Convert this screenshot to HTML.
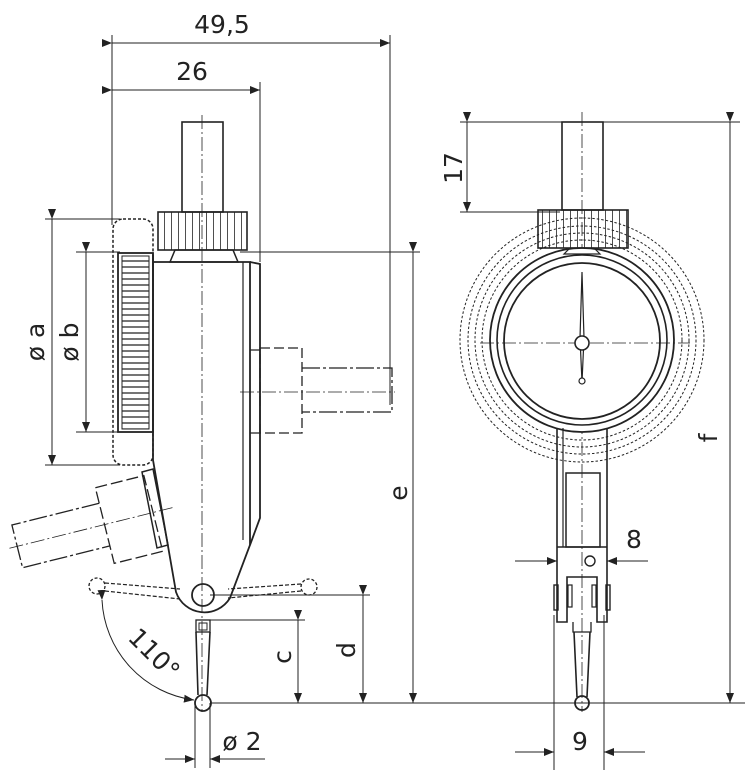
<!DOCTYPE html>
<html><head><meta charset="utf-8"><style>
html,body{margin:0;padding:0;background:#fff}
svg{display:block}
text{font-family:"DejaVu Sans","Liberation Sans",sans-serif;fill:#222}
</style></head><body>
<svg width="748" height="773" viewBox="0 0 748 773" xmlns="http://www.w3.org/2000/svg">
<defs>
<marker id="a" markerWidth="10" markerHeight="8" refX="10" refY="4" orient="auto" markerUnits="userSpaceOnUse">
<path d="M0,0 L10,4 L0,8 z" fill="#222"/></marker>
<pattern id="kn" width="7" height="40" patternUnits="userSpaceOnUse"><line x1="3.5" y1="0" x2="3.5" y2="40" stroke="#222" stroke-width="0.8"/></pattern>
<pattern id="kh" width="40" height="6" patternUnits="userSpaceOnUse"><line x1="0" y1="3" x2="40" y2="3" stroke="#222" stroke-width="1.2"/></pattern>
</defs>
<g stroke="#222" fill="none" stroke-width="1">
<line x1="112" y1="35" x2="112" y2="225"/>
<line x1="260" y1="82" x2="260" y2="262"/>
<line x1="390" y1="35" x2="390" y2="405"/>
<line x1="112" y1="43" x2="390" y2="43" marker-start="url(#a)" marker-end="url(#a)"/>
<line x1="112" y1="90" x2="260" y2="90" marker-start="url(#a)" marker-end="url(#a)"/>
<line x1="202" y1="115" x2="202" y2="712" stroke-dasharray="14,3,2,3" stroke-width="0.8"/>
<rect x="182" y="122" width="41" height="90" stroke-width="1.6"/>
<rect x="158" y="212" width="89" height="38" fill="url(#kn)" stroke-width="1.6"/>
<path d="M175,250 L233,250 L238,262 L170,262 Z" stroke-width="1.5"/>
<!-- body -->
<path d="M153,255 L153,460 L176,592 A30,30 0 0 0 230,598 L250,545 L250,262 L153,262" stroke-width="1.8"/>
<path d="M250,262 L260,264 L260,518 L250,545" stroke-width="1.8"/>
<line x1="243" y1="262" x2="243" y2="540" stroke-width="1.2"/>
<rect x="113" y="219" width="40" height="246" rx="10" stroke-dasharray="3,2" stroke-width="1.5"/>
<rect x="118" y="253" width="35" height="179" stroke-width="1.8"/>
<rect x="122" y="256" width="27" height="173" fill="url(#kh)" stroke-width="1"/>
<line x1="45" y1="219" x2="120" y2="219"/>
<line x1="45" y1="465" x2="120" y2="465"/>
<line x1="76" y1="252" x2="120" y2="252"/>
<line x1="76" y1="432" x2="120" y2="432"/>
<line x1="52" y1="219" x2="52" y2="465" marker-start="url(#a)" marker-end="url(#a)"/>
<line x1="86" y1="252" x2="86" y2="432" marker-start="url(#a)" marker-end="url(#a)"/>
<path d="M250,350 L260,350 L260,433 L250,433" stroke-width="1.3"/>
<rect x="260" y="348" width="42" height="85" stroke-dasharray="10,4" stroke-width="1.3"/>
<path d="M302,368 L392,368 L392,412 L302,412" stroke-dasharray="18,3,3,3" stroke-width="1.3"/>
<line x1="240" y1="392" x2="395" y2="392" stroke-dasharray="14,3,2,3" stroke-width="0.8"/>
<line x1="240" y1="252" x2="420" y2="252"/>
<line x1="413" y1="252" x2="413" y2="703" marker-start="url(#a)" marker-end="url(#a)"/>
<path d="M142,472 L153,469 L168,545 L157,548 Z" stroke-width="1.5"/>
<g transform="translate(155,512) rotate(-14)">
<rect x="-52" y="-38" width="50" height="78" stroke-dasharray="12,4" stroke-width="1.3"/>
<path d="M-52,-22 L-142,-22 L-142,22 L-52,22" stroke-dasharray="18,3,3,3" stroke-width="1.3"/>
<line x1="-150" y1="0" x2="18" y2="0" stroke-dasharray="14,3,2,3" stroke-width="0.8"/>
</g>
<circle cx="97" cy="586" r="8" stroke-dasharray="3,2" stroke-width="1.3"/>
<circle cx="309" cy="587" r="8" stroke-dasharray="3,2" stroke-width="1.3"/>
<path d="M105,583 L180,589 M105,591 L180,599 M301,584 L228,589 M301,591 L228,598" stroke-dasharray="4,2" stroke-width="1.2"/>
<circle cx="203" cy="595" r="11" stroke-width="1.8"/>
<rect x="196" y="620" width="14" height="12" stroke-width="1.3"/>
<rect x="199" y="623" width="8" height="7" stroke-width="1"/>
<path d="M196,632 L198,695 M210,632 L207,695" stroke-width="1.6"/>
<circle cx="203" cy="703" r="8" stroke-width="1.8"/>
<line x1="210" y1="595" x2="370" y2="595"/>
<line x1="210" y1="620" x2="305" y2="620"/>
<line x1="210" y1="703" x2="745" y2="703"/>
<line x1="298" y1="620" x2="298" y2="703" marker-start="url(#a)" marker-end="url(#a)"/>
<line x1="363" y1="595" x2="363" y2="703" marker-start="url(#a)" marker-end="url(#a)"/>
<line x1="195" y1="703" x2="195" y2="768"/>
<line x1="210" y1="703" x2="210" y2="768"/>
<line x1="165" y1="759" x2="195" y2="759" marker-end="url(#a)"/>
<line x1="265" y1="759" x2="210" y2="759" marker-end="url(#a)"/>
<path d="M102,600 A106,106 0 0 0 194,700" marker-start="url(#a)" marker-end="url(#a)"/>

<line x1="582" y1="112" x2="582" y2="712" stroke-dasharray="14,3,2,3" stroke-width="0.8"/>
<rect x="562" y="122" width="41" height="88" stroke-width="1.6"/>
<rect x="538" y="210" width="90" height="38" fill="url(#kn)" stroke-width="1.6"/>
<line x1="460" y1="122" x2="740" y2="122"/>
<line x1="460" y1="212" x2="560" y2="212"/>
<line x1="467" y1="122" x2="467" y2="212" marker-start="url(#a)" marker-end="url(#a)"/>
<line x1="730" y1="122" x2="730" y2="703" marker-start="url(#a)" marker-end="url(#a)"/>
<g stroke-dasharray="2.5,2" stroke-width="1">
<circle cx="582" cy="340" r="100"/>
<circle cx="582" cy="340" r="107"/>
<circle cx="582" cy="340" r="114"/>
<circle cx="582" cy="340" r="122"/>
</g>
<circle cx="582" cy="340" r="92" fill="#fff" stroke-width="1.8"/>
<circle cx="582" cy="340" r="85" stroke-width="1.6"/>
<circle cx="582" cy="341" r="78" stroke-width="1.8"/>
<path d="M570,248 L594,248 L600,254 L564,254 Z" stroke-width="1.2"/>
<line x1="480" y1="343" x2="690" y2="343" stroke-dasharray="14,3,2,3" stroke-width="0.8"/>
<path d="M582,272 L584,338 L582,382 L580,338 Z" stroke-width="1.2" fill="#fff"/>
<circle cx="582" cy="343" r="7" stroke-width="1.6" fill="#fff"/>
<circle cx="582" cy="381" r="3" stroke-width="1.2" fill="#fff"/>
<path d="M557,428 L557,622 L567,622 L567,577 L597,577 L597,622 L607,622 L607,428" stroke-width="1.6"/>
<line x1="563" y1="428" x2="563" y2="547" stroke-width="1.2"/>
<line x1="557" y1="547" x2="607" y2="547" stroke-width="1.4"/>
<rect x="566" y="473" width="34" height="74" stroke-width="1.5"/>
<circle cx="590" cy="561" r="5" stroke-width="1.4"/>
<rect x="554" y="585" width="4" height="25" stroke-width="1.4"/>
<rect x="606" y="585" width="4" height="25" stroke-width="1.4"/>
<rect x="568" y="585" width="4" height="22" stroke-width="1.2"/>
<rect x="592" y="585" width="4" height="22" stroke-width="1.2"/>
<path d="M573,622 L573,632 L591,632 L591,622" stroke-width="1.3"/>
<path d="M574,632 L577,697 M590,632 L587,697" stroke-width="1.6"/>
<circle cx="582" cy="703" r="7" stroke-width="1.8"/>
<line x1="515" y1="561" x2="557" y2="561" marker-end="url(#a)"/>
<line x1="648" y1="561" x2="607" y2="561" marker-end="url(#a)"/>
<line x1="554" y1="615" x2="554" y2="770"/>
<line x1="604" y1="615" x2="604" y2="770"/>
<line x1="515" y1="752" x2="554" y2="752" marker-end="url(#a)"/>
<line x1="645" y1="752" x2="604" y2="752" marker-end="url(#a)"/>
</g>
<g font-size="25">
<text x="222" y="33" text-anchor="middle">49,5</text>
<text x="192" y="80" text-anchor="middle">26</text>
<text transform="translate(44,342) rotate(-90)" text-anchor="middle">ø a</text>
<text transform="translate(78,342) rotate(-90)" text-anchor="middle">ø b</text>
<text transform="translate(407,493) rotate(-90)" text-anchor="middle">e</text>
<text transform="translate(291,657) rotate(-90)" text-anchor="middle">c</text>
<text transform="translate(355,650) rotate(-90)" text-anchor="middle">d</text>
<text x="242" y="750" text-anchor="middle">ø 2</text>
<text transform="translate(148,660) rotate(45)" text-anchor="middle">110°</text>
<text transform="translate(462,168) rotate(-90)" text-anchor="middle">17</text>
<text transform="translate(717,438) rotate(-90)" text-anchor="middle">f</text>
<text x="634" y="548" text-anchor="middle">8</text>
<text x="580" y="750" text-anchor="middle">9</text>
</g>
</svg>
</body></html>
